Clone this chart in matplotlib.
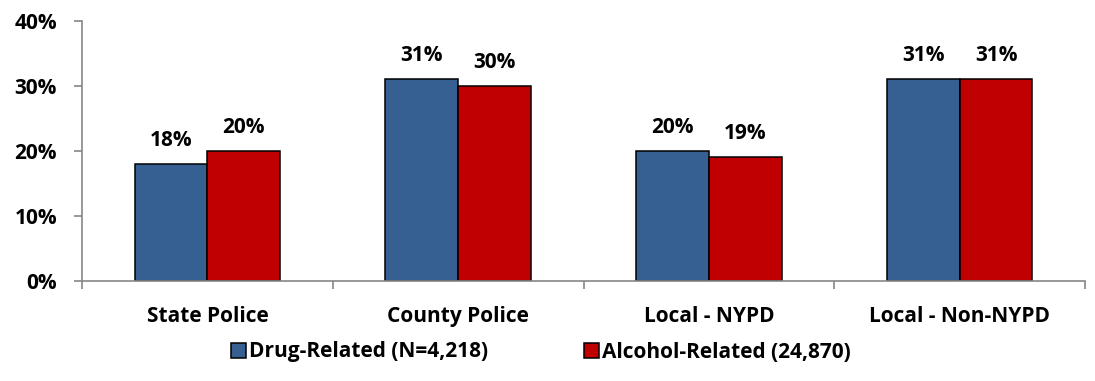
import numpy as np
import matplotlib.pyplot as plt
from matplotlib.ticker import FixedLocator, FuncFormatter

plt.rcParams['font.family'] = ['Open Sans', 'DejaVu Sans']
plt.rcParams['font.weight'] = 'bold'

# --- Data ---
categories = ['State Police', 'County Police', 'Local - NYPD', 'Local - Non-NYPD']
drug_pct = [18, 31, 20, 31]
alcohol_pct = [20, 30, 19, 31]
series_names = ['Drug-Related (N=4,218)', 'Alcohol-Related (24,870)']

BLUE = '#376092'
RED = '#C00000'
AXIS_GREY = '#868686'
FS = 15

fig = plt.figure(figsize=(10.95, 3.81), dpi=100)
ax = fig.add_axes([0.0749, 0.2625, 0.916, 0.6824])

x = np.arange(len(categories))
width = 0.29

b1 = ax.bar(x - width / 2, drug_pct, width, color=BLUE, edgecolor='black', linewidth=1.1, label=series_names[0])
b2 = ax.bar(x + width / 2, alcohol_pct, width, color=RED, edgecolor='black', linewidth=1.1, label=series_names[1])

for bars, vals in ((b1, drug_pct), (b2, alcohol_pct)):
    for rect, v in zip(bars, vals):
        ax.annotate(f'{v}%', (rect.get_x() + rect.get_width() / 2, v),
                    xytext=(0, 13), textcoords='offset points',
                    ha='center', va='baseline', fontsize=FS, fontweight='bold')

ax.set_xlim(-0.5, len(categories) - 0.5)
ax.set_ylim(0, 40)
ax.set_yticks([0, 10, 20, 30, 40])
ax.yaxis.set_major_formatter(FuncFormatter(lambda v, _: f'{v:.0f}%'))

# category labels at centres, tick marks on the boundaries
ax.set_xticks(x)
ax.set_xticklabels(categories)
ax.xaxis.set_minor_locator(FixedLocator(np.arange(-0.5, len(categories), 1.0)))
ax.tick_params(axis='x', which='major', length=0, pad=18, labelsize=FS)
ax.tick_params(axis='x', which='minor', length=6, width=1.2, color=AXIS_GREY, direction='out')
ax.tick_params(axis='y', length=6, width=1.2, color=AXIS_GREY, direction='out', pad=12, labelsize=FS)

for lbl in ax.get_xticklabels() + ax.get_yticklabels():
    lbl.set_fontweight('bold')

for side in ('top', 'right'):
    ax.spines[side].set_visible(False)
for side in ('left', 'bottom'):
    ax.spines[side].set_color(AXIS_GREY)
    ax.spines[side].set_linewidth(1.2)

fig.legend(handles=[b1, b2], loc='center', bbox_to_anchor=(0.494, 1 - 352 / 381),
           ncol=2, frameon=False, handlelength=0.7, handleheight=0.7,
           handletextpad=0.15, columnspacing=4.6, prop={'weight': 'bold', 'size': FS})

fig.savefig('out.png', dpi=100)
